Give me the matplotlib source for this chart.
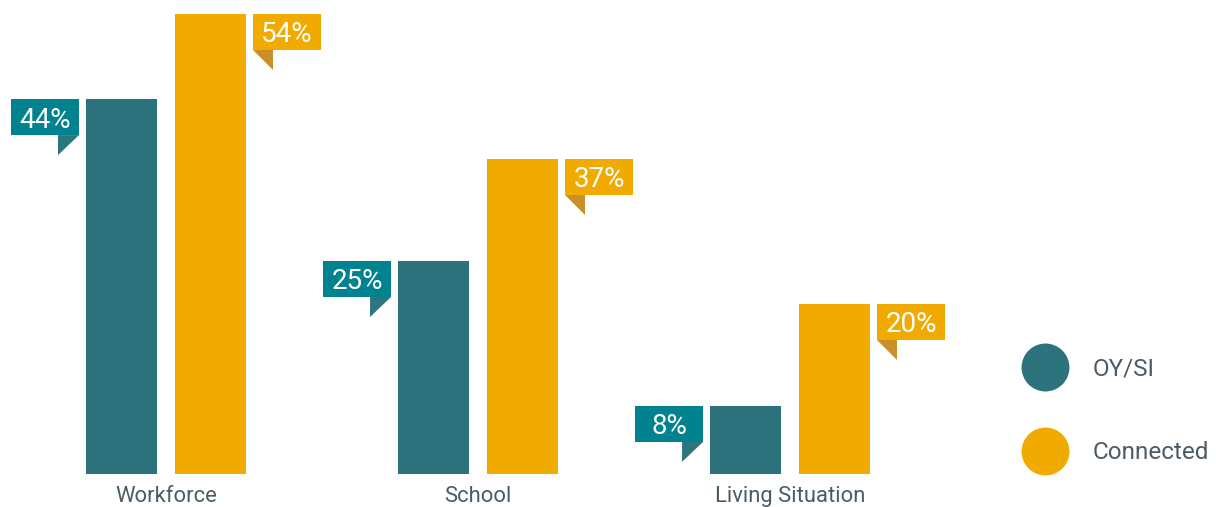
import matplotlib
matplotlib.use("Agg")
import matplotlib.pyplot as plt
import matplotlib.transforms as mtransforms
from matplotlib.patches import Polygon, Rectangle
import numpy as np

plt.rcParams['font.family'] = ['Roboto', 'DejaVu Sans']

categories = ["Workforce", "School", "Living Situation"]
series_names = ["OY/SI", "Connected"]
oysi = [44, 25, 8]
connected = [54, 37, 20]

BAR_TEAL = "#2d737e"
BOX_TEAL = "#00828f"
TAIL_TEAL = "#2e7580"
BAR_ORANGE = "#f0aa00"
TAIL_ORANGE = "#c9902a"
GRAY = "#4b5c66"

fig = plt.figure(figsize=(12.16, 5.07), dpi=100)
ax = fig.add_axes([0, 0, 1, 1])
ax.set_xlim(-0.532, 3.365)
ax.set_ylim(-3.87, 55.63)
ax.axis("off")

x = np.arange(len(categories))
width = 0.2276
offset = 0.1426

ax.bar(x - offset, oysi, width, color=BAR_TEAL)
ax.bar(x + offset, connected, width, color=BAR_ORANGE)


def px_trans(xd, yd):
    # pixel-based offsets (1 px = 0.01 in at 100 dpi) anchored at a data point
    return (mtransforms.Affine2D().scale(1.0 / 100.0)
            + fig.dpi_scale_trans
            + mtransforms.ScaledTranslation(xd, yd, ax.transData))


def callout(xd, yd, text, side):
    tr = px_trans(xd, yd)
    if side == "left":
        box = Rectangle((-75, -36), 68, 36, color=BOX_TEAL, transform=tr, lw=0)
        tail = Polygon([(-28, -36), (-7, -36), (-28, -56)], closed=True,
                       color=TAIL_TEAL, transform=tr, lw=0)
        cx = -41
    else:
        box = Rectangle((7, -36), 68, 36, color=BAR_ORANGE, transform=tr, lw=0)
        tail = Polygon([(7, -36), (27, -36), (27, -56)], closed=True,
                       color=TAIL_ORANGE, transform=tr, lw=0)
        cx = 41
    ax.add_patch(tail)
    ax.add_patch(box)
    ax.text(cx, -28.5, text, transform=tr, ha="center", va="baseline",
            color="white", fontsize=20)


for xi, v in zip(x, oysi):
    callout(xi - offset - width / 2, v, f"{v}%", "left")
for xi, v in zip(x, connected):
    callout(xi + offset + width / 2, v, f"{v}%", "right")

for xi, c in zip(x, categories):
    ax.annotate(c, xy=(xi, 0), xytext=(0, -28), textcoords="offset pixels",
                ha="center", va="baseline", color=GRAY, fontsize=15.8)

# legend
for yy, name, col in [(0.2761, series_names[0], BAR_TEAL),
                      (0.1105, series_names[1], BAR_ORANGE)]:
    ax.scatter([0.8594], [yy], s=34.5 ** 2, color=col, transform=ax.transAxes,
               clip_on=False, lw=0)
    ax.annotate(name, xy=(0.8988, yy), xycoords="axes fraction",
                xytext=(0, -8), textcoords="offset pixels",
                ha="left", va="baseline", color=GRAY, fontsize=17.5)

fig.savefig("out.png", dpi=100)
